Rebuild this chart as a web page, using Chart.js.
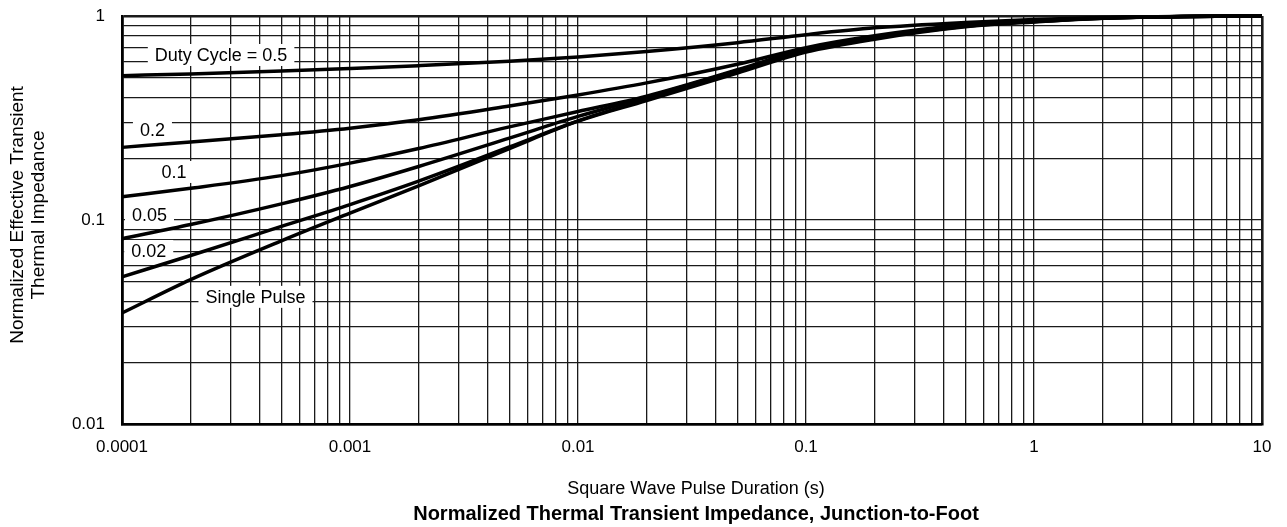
<!DOCTYPE html>
<html>
<head>
<meta charset="utf-8">
<title>Normalized Thermal Transient Impedance, Junction-to-Foot</title>
<script src="https://cdn.jsdelivr.net/npm/chart.js@4.4.1/dist/chart.umd.min.js"></script>
<style>
  html, body { margin: 0; padding: 0; background: #fff; }
  canvas { display: block; }
</style>
</head>
<body>
<canvas id="zthChart" width="1287" height="527"></canvas>
<script>
// square wave pulse duration (s)
const pulseDurations = [0.0001, 0.0002, 0.0005, 0.001, 0.002, 0.005, 0.01, 0.02, 0.05, 0.1, 0.2, 0.5, 1, 2, 5, 10];

// normalized effective transient thermal impedance, one array per duty cycle
const zthDuty05 = [0.51, 0.52, 0.537, 0.553, 0.571, 0.60, 0.63, 0.67, 0.74, 0.81, 0.875, 0.93, 0.96, 0.982, 0.996, 1.0];
const zthDuty02 = [0.227, 0.241, 0.262, 0.282, 0.31, 0.362, 0.41, 0.47, 0.58, 0.70, 0.80, 0.905, 0.95, 0.98, 0.996, 1.0];
const zthDuty01 = [0.130, 0.143, 0.165, 0.19, 0.224, 0.286, 0.34, 0.405, 0.545, 0.69, 0.79, 0.90, 0.945, 0.978, 0.995, 1.0];
const zthDuty005 = [0.081, 0.095, 0.12, 0.146, 0.183, 0.252, 0.322, 0.40, 0.54, 0.685, 0.785, 0.895, 0.94, 0.976, 0.995, 1.0];
const zthDuty002 = [0.0526, 0.067, 0.093, 0.119, 0.155, 0.228, 0.306, 0.39, 0.532, 0.675, 0.78, 0.89, 0.94, 0.975, 0.995, 1.0];
const zthSingle = [0.035, 0.051, 0.079, 0.108, 0.147, 0.224, 0.305, 0.385, 0.525, 0.665, 0.77, 0.885, 0.935, 0.975, 0.995, 1.0];

const curveNames = ['Duty Cycle = 0.5', '0.2', '0.1', '0.05', '0.02', 'Single Pulse'];
const curveValues = [zthDuty05, zthDuty02, zthDuty01, zthDuty005, zthDuty002, zthSingle];

const xTickLabels = ['0.0001', '0.001', '0.01', '0.1', '1', '10'];
const yTickLabels = ['0.01', '0.1', '1'];

const xTitle = 'Square Wave Pulse Duration (s)';
const yTitle = ['Normalized Effective Transient', 'Thermal Impedance'];
const chartTitle = 'Normalized Thermal Transient Impedance, Junction-to-Foot';

const FONT = "'Liberation Sans', Arial, Helvetica, sans-serif";
Chart.defaults.font.family = FONT;
Chart.defaults.color = '#000';

// 1..9 per decade, so every log grid line gets drawn
function decadeTicks(labels) {
  const lo = Math.log10(parseFloat(labels[0]));
  const hi = Math.log10(parseFloat(labels[labels.length - 1]));
  const out = [];
  for (let e = Math.round(lo); e < Math.round(hi); e++) {
    for (let m = 1; m < 10; m++) out.push({ value: m * Math.pow(10, e) });
  }
  out.push({ value: Math.pow(10, Math.round(hi)) });
  return out;
}

function labelFor(list) {
  return function (value) {
    const hit = list.find(s => Math.abs(Math.log10(parseFloat(s)) - Math.log10(value)) < 1e-6);
    return hit || '';
  };
}

function edgeWidth(ctx) {
  const n = ctx.scale.ticks.length;
  return (ctx.index === 0 || ctx.index === n - 1) ? 2.6 : 1.3;
}

// curve labels sit in white boxes over the grid
const curveLabelPos = [
  { x: 0.000272, y: 0.644 },
  { x: 0.000136, y: 0.276 },
  { x: 0.000169, y: 0.172 },
  { x: 0.000132, y: 0.106 },
  { x: 0.000131, y: 0.0705 },
  { x: 0.000385, y: 0.042 }
];

const labelPlugin = {
  id: 'curveLabels',
  beforeDatasetsDraw(chart) {
    const { ctx, scales: { x, y } } = chart;
    ctx.save();
    ctx.font = '18px ' + FONT;
    ctx.textAlign = 'center';
    ctx.textBaseline = 'middle';
    curveNames.forEach((name, i) => {
      const px = x.getPixelForValue(curveLabelPos[i].x);
      const py = y.getPixelForValue(curveLabelPos[i].y);
      const w = ctx.measureText(name).width + 14;
      ctx.fillStyle = '#fff';
      ctx.fillRect(px - w / 2, py - 11, w, 22);
      ctx.fillStyle = '#000';
      ctx.fillText(name, px, py + 1);
    });
    ctx.restore();
  },
  afterDraw(chart) {
    const { ctx, chartArea } = chart;
    const cx = (chartArea.left + chartArea.right) / 2;
    ctx.save();
    ctx.fillStyle = '#000';
    ctx.textAlign = 'center';
    ctx.textBaseline = 'middle';

    ctx.font = '18px ' + FONT;
    ctx.fillText(xTitle, cx + 4, 489);

    ctx.font = 'bold 20px ' + FONT;
    ctx.fillText(chartTitle, cx + 4, 514);

    ctx.font = '19px ' + FONT;
    ctx.translate(18, 215);
    ctx.rotate(-Math.PI / 2);
    ctx.fillText(yTitle[0], 0, 0);
    ctx.fillText(yTitle[1], 0, 21);
    ctx.restore();
  }
};

const datasets = curveNames.map((name, i) => ({
  label: name,
  data: pulseDurations.map((t, k) => ({ x: t, y: curveValues[i][k] })),
  borderColor: '#000',
  borderWidth: 3.5,
  pointRadius: 0,
  fill: false,
  cubicInterpolationMode: 'monotone',
  clip: 4
}));

new Chart(document.getElementById('zthChart'), {
  type: 'line',
  data: { datasets },
  options: {
    responsive: false,
    animation: false,
    layout: { padding: { left: 0, right: 25, top: 16, bottom: 0 } },
    plugins: {
      legend: { display: false },
      tooltip: { enabled: false }
    },
    scales: {
      x: {
        type: 'logarithmic',
        min: 0.0001,
        max: 10,
        afterBuildTicks: s => { s.ticks = decadeTicks(xTickLabels); },
        afterFit: s => { s.height = 103; },
        grid: { color: '#1a1a1a', lineWidth: edgeWidth, drawTicks: false },
        border: { display: true, color: '#000', width: 2.6 },
        ticks: {
          autoSkip: false,
          maxRotation: 0,
          padding: 13,
          font: { size: 17 },
          callback: labelFor(xTickLabels)
        }
      },
      y: {
        type: 'logarithmic',
        min: 0.01,
        max: 1,
        afterBuildTicks: s => { s.ticks = decadeTicks(yTickLabels); },
        // fixed width, and keep the label padding from pushing the plot down
        afterFit: s => { s.width = 122; s.paddingTop = 0; s.paddingBottom = 0; },
        grid: { color: '#1a1a1a', lineWidth: edgeWidth, drawTicks: false },
        border: { display: true, color: '#000', width: 2.6 },
        ticks: {
          autoSkip: false,
          padding: 17,
          font: { size: 17 },
          callback: labelFor(yTickLabels)
        }
      }
    }
  },
  plugins: [labelPlugin]
});
</script>
</body>
</html>
